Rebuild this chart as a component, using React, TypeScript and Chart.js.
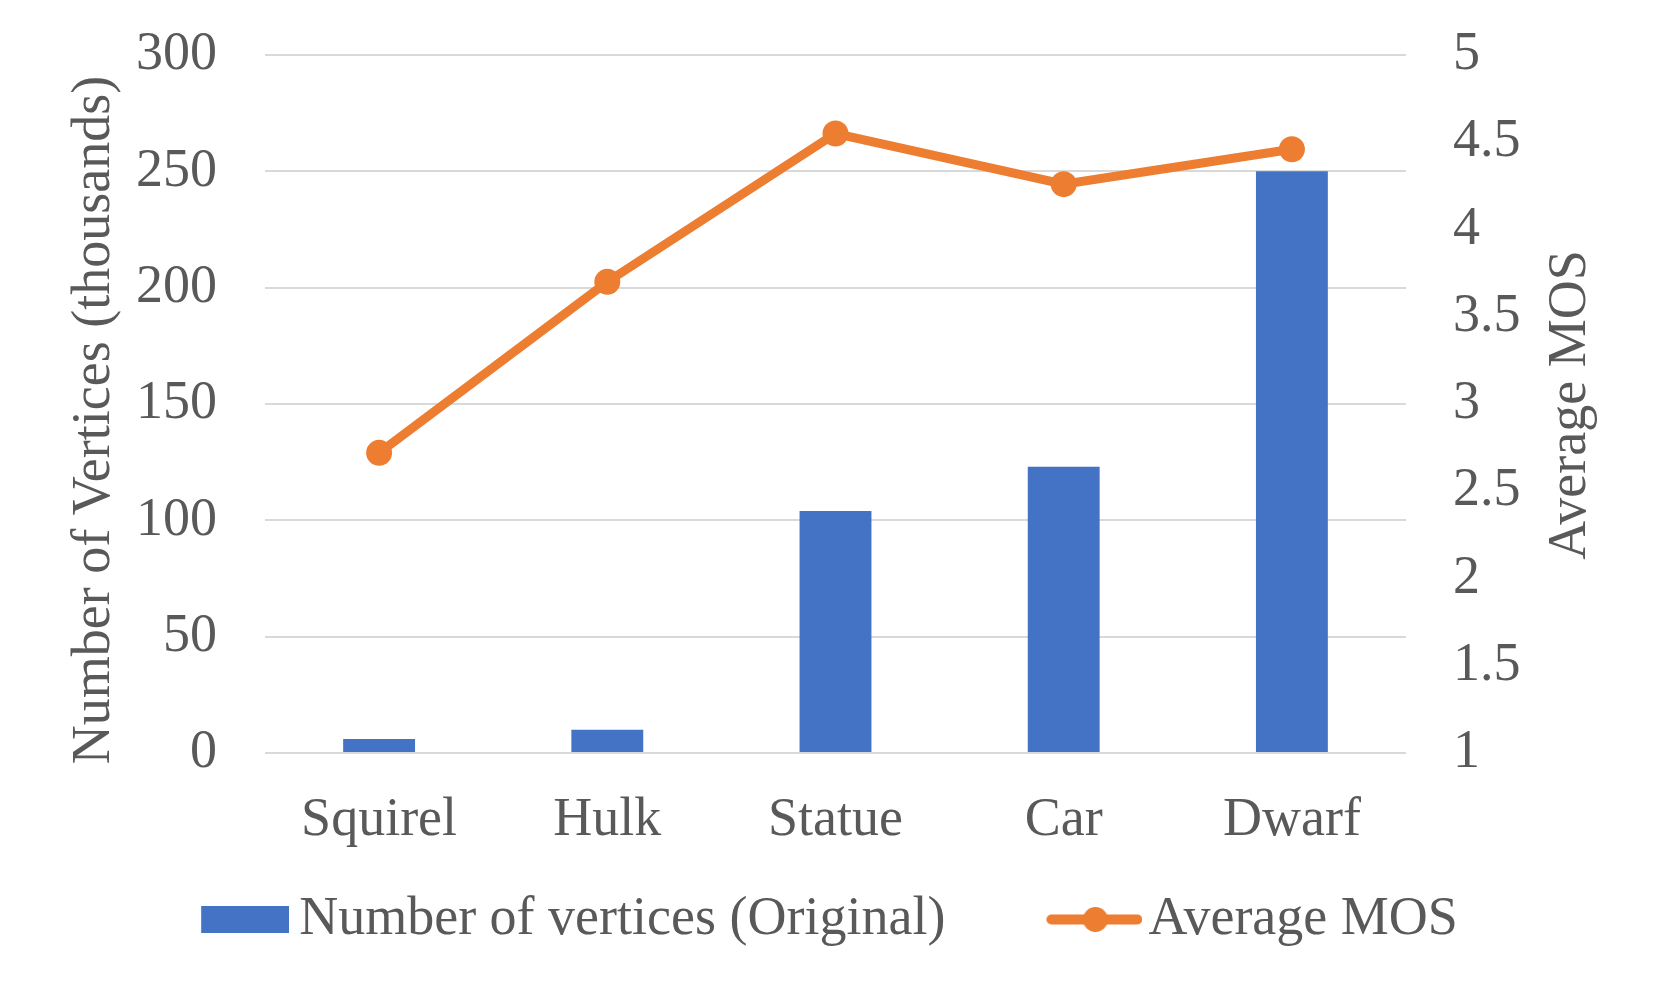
import { useEffect, useRef } from "react"
import { Chart, registerables } from "chart.js"

Chart.register(...registerables)

const categories = ["Squirel", "Hulk", "Statue", "Car", "Dwarf"]
const vertices = [6, 10, 104, 123, 250]
const averageMos = [2.72, 3.7, 4.55, 4.26, 4.46]
const leftTicks = [0, 50, 100, 150, 200, 250, 300]
const rightTicks = [1, 1.5, 2, 2.5, 3, 3.5, 4, 4.5, 5]

const BLUE = "#4472C4"
const ORANGE = "#ED7D31"
const TEXT = "#595959"
const GRID = "#D9D9D9"
const FONT = "'Liberation Serif', 'Times New Roman', serif"

// legend swatches: the mark sits at the right end of a wider transparent image,
// so that it lands close to its label text
function barSwatch() {
  const c = document.createElement("canvas")
  c.width = 200
  c.height = 27
  const ctx = c.getContext("2d")!
  ctx.fillStyle = BLUE
  ctx.fillRect(112, 0, 88, 27)
  return c
}

function lineSwatch() {
  const c = document.createElement("canvas")
  c.width = 208
  c.height = 27
  const ctx = c.getContext("2d")!
  ctx.strokeStyle = ORANGE
  ctx.lineWidth = 10
  ctx.lineCap = "round"
  ctx.beginPath()
  ctx.moveTo(117, 13.5)
  ctx.lineTo(203, 13.5)
  ctx.stroke()
  ctx.fillStyle = ORANGE
  ctx.beginPath()
  ctx.arc(161, 13.5, 12.5, 0, Math.PI * 2)
  ctx.fill()
  return c
}

const axisTitles = {
  id: "axisTitles",
  afterDraw(chart: Chart) {
    const ctx = chart.ctx
    const draw = (text: string, x: number, y: number) => {
      ctx.save()
      ctx.font = `54px ${FONT}`
      ctx.fillStyle = TEXT
      ctx.textAlign = "center"
      ctx.textBaseline = "alphabetic"
      ctx.translate(x, y)
      ctx.rotate(-Math.PI / 2)
      ctx.fillText(text, 0, 0)
      ctx.restore()
    }
    draw("Number of Vertices (thousands)", 109, 420)
    draw("Average MOS", 1585, 405)
  },
}

export default function App() {
  const chartRef = useRef<HTMLCanvasElement>(null)
  const chartInstance = useRef<Chart | null>(null)

  useEffect(() => {
    document.body.style.margin = "0"
    if (!chartRef.current) return
    if (chartInstance.current) chartInstance.current.destroy()

    const swatches = [barSwatch(), lineSwatch()]
    const tickFont = { family: FONT, size: 54 }
    const noPad = (s: any) => {
      s.paddingTop = 0
      s.paddingBottom = 0
    }

    chartInstance.current = new Chart(chartRef.current, {
      type: "bar",
      data: {
        labels: categories,
        datasets: [
          {
            type: "line",
            label: "Average MOS",
            data: averageMos,
            yAxisID: "y1",
            borderColor: ORANGE,
            backgroundColor: ORANGE,
            borderWidth: 9,
            pointRadius: 13,
            pointBackgroundColor: ORANGE,
            pointBorderWidth: 0,
            tension: 0,
            order: 1,
          },
          {
            type: "bar",
            label: "Number of vertices (Original)",
            data: vertices,
            yAxisID: "y",
            backgroundColor: BLUE,
            categoryPercentage: 1,
            barPercentage: 0.315,
            order: 2,
          },
        ],
      },
      options: {
        responsive: false,
        animation: false,
        layout: { padding: { top: 55, bottom: 42.5, left: 0, right: 95 } },
        plugins: {
          tooltip: { enabled: false },
          legend: {
            position: "bottom",
            labels: {
              usePointStyle: true,
              pointStyleWidth: 166,
              padding: 10,
              color: TEXT,
              font: tickFont,
              generateLabels: () => [
                {
                  text: "Number of vertices (Original)",
                  pointStyle: swatches[0],
                  fillStyle: BLUE,
                  strokeStyle: BLUE,
                  lineWidth: 0,
                  fontColor: TEXT,
                  datasetIndex: 1,
                },
                {
                  text: "Average MOS",
                  pointStyle: swatches[1],
                  fillStyle: ORANGE,
                  strokeStyle: ORANGE,
                  lineWidth: 0,
                  fontColor: TEXT,
                  datasetIndex: 0,
                },
              ],
            },
          },
        },
        scales: {
          x: {
            grid: { display: false },
            border: { display: false },
            ticks: { color: TEXT, font: tickFont, padding: 27, maxRotation: 0 },
            afterFit: (s) => {
              s.height = 129.5
            },
          },
          y: {
            position: "left",
            min: 0,
            max: 300,
            grid: { color: GRID, lineWidth: 2, drawTicks: false },
            border: { display: false },
            ticks: { color: TEXT, font: tickFont, padding: 48 },
            afterBuildTicks: (s) => {
              s.ticks = leftTicks.map((v) => ({ value: v }))
            },
            afterFit: (s) => {
              s.width = 265
              noPad(s)
            },
          },
          y1: {
            position: "right",
            min: 1,
            max: 5,
            grid: { display: false, drawTicks: false },
            border: { display: false },
            ticks: { color: TEXT, font: tickFont, padding: 47, callback: (v) => String(v) },
            afterBuildTicks: (s) => {
              s.ticks = rightTicks.map((v) => ({ value: v }))
            },
            afterFit: (s) => {
              s.width = 158
              noPad(s)
            },
          },
        },
      },
      plugins: [axisTitles],
    })

    return () => {
      if (chartInstance.current) {
        chartInstance.current.destroy()
        chartInstance.current = null
      }
    }
  }, [])

  return (
    <div style={{ width: 1659, height: 999, background: "#fff" }}>
      <canvas ref={chartRef} width={1659} height={999} />
    </div>
  )
}
